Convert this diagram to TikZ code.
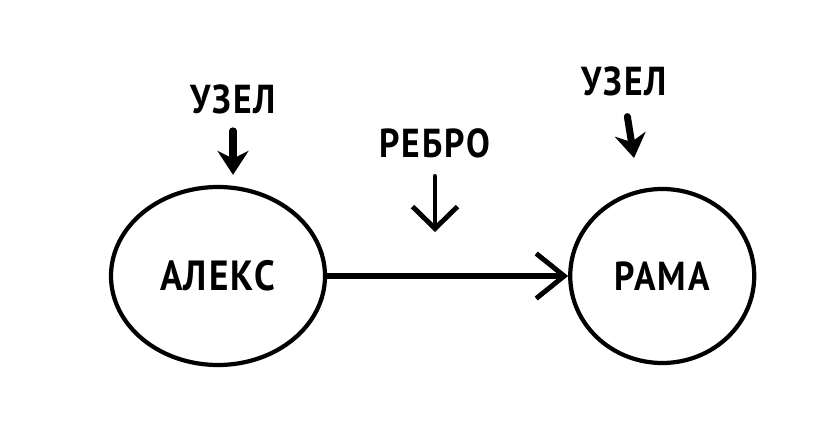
\documentclass[tikz,border=0pt]{standalone}
\usepackage{fontspec}
\setmainfont{PT Sans}[FakeStretch=0.88, LetterSpace=5]
\usetikzlibrary{positioning, shapes.geometric, arrows.meta}

\begin{document}
\begin{tikzpicture}[
            vertex/.style={draw, ellipse, line width=1.2pt, inner sep=0pt},
            tag/.style={inner sep=0pt, font=\fontsize{11.5}{14}\selectfont\bfseries},
            edgearrow/.style={-{Straight Barb[length=2.8mm, width=4.5mm, line width=1.4pt]}, line width=1.7pt, line cap=round},
            pointer/.style={-{Stealth[length=2.4mm, width=3.1mm]}, line width=2pt, line cap=round},
            thinpointer/.style={-{Straight Barb[length=2.2mm, width=4.5mm]}, line width=1.4pt, line cap=round}
        ]
            \useasboundingbox (0,0) rectangle (8.38,4.36);

            \node [vertex, minimum width=2.14cm, minimum height=1.78cm] (alex) at (2.18,1.60) {\fontsize{12}{14}\selectfont\bfseries АЛЕКС};
            \node [vertex, minimum width=1.84cm, minimum height=1.74cm, right=2.41cm of alex] (rama) {\fontsize{11.5}{14}\selectfont\bfseries РАМА};

            \node [tag, above=0.7cm of alex, xshift=1.5mm] (uzelA) {УЗЕЛ};
            \node [tag, above=0.9cm of rama, xshift=-3.8mm] (uzelB) {УЗЕЛ};
            \node [tag] (rebro) at (4.35,2.93) {РЕБРО};

            \draw [edgearrow] (alex) -- coordinate (mid) (rama);

            \draw [pointer, shorten <=1.6mm, shorten >=1mm] (uzelA.south) -- (uzelA.south |- alex.north);
            \draw [thinpointer, shorten <=1.8mm, shorten >=4.4mm] (rebro.south) -- (rebro.south |- mid);
            \draw [pointer, shorten <=2mm, shorten >=3.2mm] (uzelB.south) -- (rama.105);

        \end{tikzpicture}
\end{document}
